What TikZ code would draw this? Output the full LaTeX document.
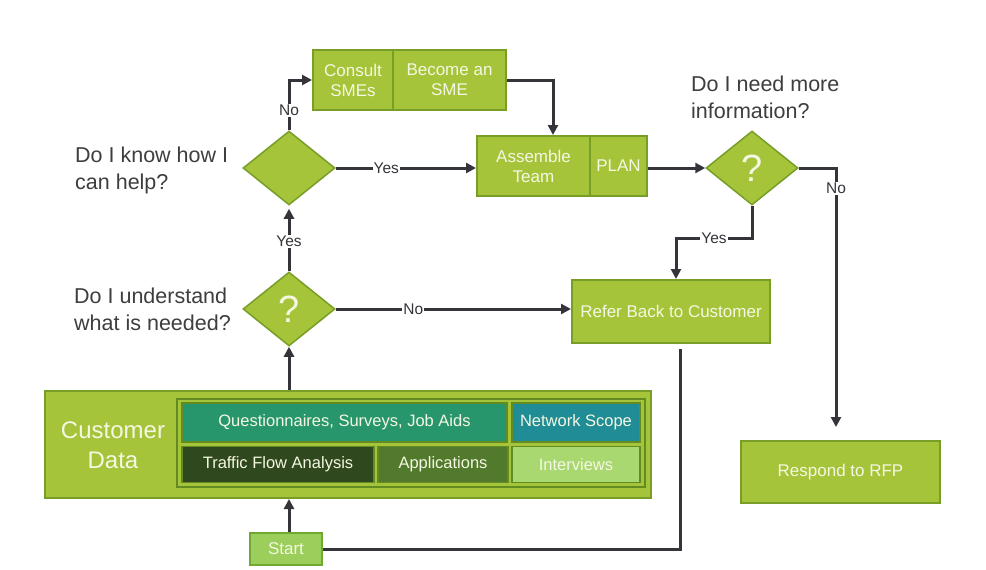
\documentclass[tikz,border=0pt]{standalone}
\usepackage{fontspec}
\setmainfont{Liberation Sans}
\usetikzlibrary{shapes.geometric,arrows.meta,calc}
\definecolor{lime}{RGB}{166,196,58}
\definecolor{limeedge}{RGB}{120,158,40}
\definecolor{darkedge}{RGB}{98,140,34}
\definecolor{qcol}{RGB}{40,150,108}
\definecolor{nscol}{RGB}{32,140,150}
\definecolor{tfcol}{RGB}{48,72,30}
\definecolor{appcol}{RGB}{82,122,45}
\definecolor{intcol}{RGB}{170,216,112}
\definecolor{startfill}{RGB}{156,206,92}
\definecolor{startedge}{RGB}{112,168,50}
\definecolor{boxtext}{RGB}{244,248,226}
\definecolor{conncol}{RGB}{52,52,58}
\definecolor{qtext}{RGB}{62,62,62}
\tikzset{
  box/.style={draw=limeedge, line width=2pt, fill=lime, inner sep=0pt, align=center,
    text=boxtext, font=\fontsize{17}{20}\selectfont},
  cell/.style={draw=darkedge, line width=1.5pt, inner sep=0pt, align=center,
    text=boxtext, font=\fontsize{16.5}{20}\selectfont},
  diam/.style={diamond, draw=limeedge, line width=1.5pt, fill=lime, inner sep=0pt,
    minimum width=92pt, minimum height=74pt, aspect=1.24,
    text=boxtext, font=\fontsize{38}{40}\selectfont},
  question/.style={anchor=west, align=left, text=qtext, inner sep=0pt,
    font=\fontsize{21.5}{27}\selectfont},
  conn/.style={draw=conncol, line width=3pt, -{Triangle[length=10pt,width=10pt]}},
  plainconn/.style={draw=conncol, line width=3pt},
  lbl/.style={fill=white, inner sep=1pt, text=conncol, font=\fontsize{15.5}{17}\selectfont}
}
\begin{document}
\begin{tikzpicture}[x=1pt,y=-1pt]
\useasboundingbox[fill=white] (0,0) rectangle (986,570);

% top boxes
\node[box, minimum width=80pt, minimum height=60pt] (consult) at (353,80) {Consult\\SMEs};
\node[box, minimum width=113pt, minimum height=60pt] (sme) at (449.5,80) {Become an\\SME};
\node[box, minimum width=113pt, minimum height=60pt] (assemble) at (533.5,166) {Assemble\\Team};
\node[box, minimum width=57pt, minimum height=60pt] (plan) at (618.5,166) {PLAN};

% diamonds
\node[diam] (d1) at (289,168) {};
\node[diam] (d2) at (289,309) {?};
\node[diam] (d3) at (752,168) {?};

% question texts
\node[question] (q1) at (75,170) {Do I know how I\\can help?};
\node[question] (q2) at (74,309) {Do I understand\\what is needed?};
\node[question] (q3) at (691,97) {Do I need more\\information?};

% right boxes
\node[box, minimum width=198pt, minimum height=63pt] (refer) at (671,311.5) {Refer Back to Customer};
\node[box, minimum width=199pt, minimum height=62pt] (rfp) at (840.5,472) {Respond to RFP};

% customer data
\node[box, minimum width=606pt, minimum height=107pt] (cd) at (348,444.5) {};
\node[text=boxtext, align=center, font=\fontsize{24}{30}\selectfont, inner sep=0pt] (cdtext) at (113,445) {Customer\\Data};
\node[draw=darkedge, line width=1.5pt, fill=lime, minimum width=468pt, minimum height=88pt, inner sep=0pt] (inner) at (411,443) {};
\node[cell, fill=qcol, minimum width=325pt, minimum height=39pt] (quest) at (344.5,422.5) {Questionnaires, Surveys, Job Aids};
\node[cell, fill=nscol, minimum width=128pt, minimum height=39pt] (ns) at (576,422.5) {Network Scope};
\node[cell, fill=tfcol, minimum width=192pt, minimum height=36pt] (tf) at (278,464.5) {Traffic Flow Analysis};
\node[cell, fill=appcol, minimum width=130pt, minimum height=36pt] (app) at (443,464.5) {Applications};
\node[cell, fill=intcol, minimum width=128pt, minimum height=36pt] (int) at (576,464.5) {Interviews};

% start
\node[box, draw=startedge, fill=startfill, minimum width=72pt, minimum height=32pt] (start) at (286,549) {Start};

% connectors
\draw[conn] (d2.south |- start.north) -- (d2.south |- cd.south);
\draw[conn] (d2.north |- cd.north) -- (d2.south);
\draw[conn] (d2.north) -- node[lbl, pos=0.48] {Yes} ([yshift=-3pt]d1.south);
\draw[conn] (d1.north) |- node[lbl, pos=0.2] {No} (consult.west);
\draw[conn] (d1.east) -- node[lbl, pos=0.36] {Yes} (d1.east -| assemble.west);
\draw[conn] (sme.east) -| ([xshift=19.5pt]assemble.north);
\draw[conn] (plan.east |- d3.west) -- (d3.west);
\coordinate (rfpin) at ([xshift=-4.5pt,yshift=13pt]rfp.north);
\draw[conn] (d3.east) -| node[lbl, pos=0.54] {No} (rfpin);
\coordinate (yb) at (752,238);
\coordinate (refin) at ([xshift=5pt]refer.north);
\draw[conn] (d3.south) -- (yb) -- node[lbl, pos=0.5] {Yes} (refin |- yb) -- (refin);
\draw[conn] (d2.east) -- node[lbl, pos=0.33] {No} (d2.east -| refer.west);
\coordinate (refout) at ([xshift=9pt,yshift=-5pt]refer.south);
\draw[plainconn] (refout) |- (start.east);
\end{tikzpicture}
\end{document}
